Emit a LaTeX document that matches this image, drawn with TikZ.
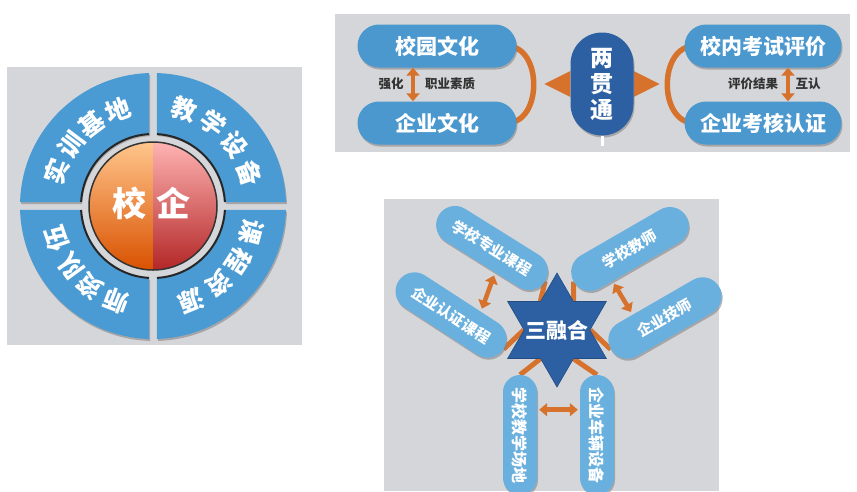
\documentclass[tikz,border=0pt]{standalone}
\usepackage{fontspec}
\setmainfont{Noto Sans CJK SC}
\usetikzlibrary{shapes.geometric,arrows.meta,calc,shadows}
\pgfdeclarelayer{back}
\pgfdeclarelayer{mid}
\pgfsetlayers{back,mid,main}
\definecolor{bggray}{RGB}{213,214,217}
\definecolor{ringblue}{RGB}{74,155,211}
\definecolor{pillblue}{RGB}{75,152,207}
\definecolor{lightblue}{RGB}{106,176,222}
\definecolor{darkblue}{RGB}{44,96,162}
\definecolor{linkorange}{RGB}{214,114,44}
\tikzset{
  panel/.style={fill=bggray},
  shadowed/.style={drop shadow={shadow xshift=1pt,shadow yshift=-2pt,opacity=0.55}},
  ringchar/.style={text=white, inner sep=0pt, font=\bfseries\fontsize{25}{25}\selectfont},
  bigchar/.style={text=white, inner sep=0pt, font=\bfseries\fontsize{34}{34}\selectfont},
  pill/.style={fill=pillblue, rounded corners=21.5pt, minimum width=159pt, minimum height=43pt,
    inner sep=0pt, text=white, font=\bfseries\fontsize{21}{21}\selectfont, shadowed},
  hub/.style={fill=darkblue, rounded corners=31.5pt, minimum width=63pt, minimum height=103pt,
    inner sep=0pt, text=white, align=center, font=\bfseries\fontsize{23}{26}\selectfont, shadowed},
  note/.style={text=black!80, inner sep=0pt, font=\bfseries\fontsize{12.5}{12.5}\selectfont},
  bow/.style={linkorange, line width=5.5pt},
  dbl/.style={linkorange, line width=4.5pt, {Triangle[width=13pt,length=8pt]}-{Triangle[width=13pt,length=8pt]}},
  link/.style={linkorange, line width=5pt},
  star6/.style={shape=star, star points=6, star point ratio=1.732, minimum size=114pt, inner sep=0pt,
    fill=darkblue, draw=darkblue!80!black, line width=0.6pt},
  starlabel/.style={text=white, inner sep=0pt, font=\bfseries\fontsize{21}{21}\selectfont},
  petal/.style={fill=lightblue, rounded corners=19pt, minimum width=125pt, minimum height=38pt,
    inner sep=0pt, text=white, font=\bfseries\fontsize{15}{15}\selectfont, shadowed},
  upright/.style={petal, rotate=-90, minimum width=120pt, minimum height=34pt, rounded corners=17pt,
    font=\bfseries\fontsize{16}{16}\selectfont}
}
\begin{document}
\begin{tikzpicture}[x=1pt,y=-1pt]
  \useasboundingbox (0,0) rectangle (857,491);
  \begin{pgfonlayer}{back}
    \fill[white] (0,0) rectangle (857,491);
    \fill[panel] (7,67) rectangle (302,345);
    \fill[panel] (335,14) rectangle (850,152);
    \fill[panel] (384,199) rectangle (719,491);
  \end{pgfonlayer}

  \begin{scope}[shift={(153,206)}, y=1pt]
    \foreach \q in {0,90,180,270}{
      \fill[ringblue, shadowed] (\q+91.72:133) arc[start angle=\q+91.72, end angle=\q+178.28, radius=133]
        -- (\q+176.82:72) arc[start angle=\q+176.82, end angle=\q+93.18, radius=72] -- cycle;
      \draw[black!85, line width=2pt] (\q+176.82:72) arc[start angle=\q+176.82, end angle=\q+93.18, radius=72];
    }
    \begin{scope}
      \clip (-66,-66) rectangle (0,66);
      \shade[top color=orange!45!white, bottom color=orange!75!red!85!black] (0,0) circle(64);
    \end{scope}
    \begin{scope}
      \clip (0,-66) rectangle (66,66);
      \shade[top color=red!30!white, bottom color=red!65!black!85] (0,0) circle(64);
    \end{scope}
    \draw[black!80, line width=1.5pt] (0,0) circle(64);
    \node[bigchar] (xiao) at (-24,3) {校};
    \node[bigchar] (qi) at (20,3) {企};
    \foreach \a/\c [count=\i] in {160/实,143/训,127/基,110/地,72/教,54/学,37/设,19/备,
        -15/课,-33/程,-50/资,-68/源,249/师,232/资,216/队,199/伍}
      \node[ringchar, rotate=\a-90] (r\i) at (\a:102) {\c};
  \end{scope}

  \node[pill] (w1) at (437,46) {校园文化};
  \node[pill] (w2) at (437,123) {企业文化};
  \node[pill, minimum width=157pt] (e1) at (763,46) {校内考试评价};
  \node[pill, minimum width=157pt] (e2) at (763,123) {企业考核认证};
  \begin{pgfonlayer}{mid}
    \draw[bow] ([xshift=-10pt]w1.east) to[out=0,in=0,looseness=1.2] ([xshift=-10pt]w2.east);
    \draw[bow] ([xshift=10pt]e1.west) to[out=180,in=180,looseness=1.2] ([xshift=10pt]e2.west);
  \end{pgfonlayer}
  \draw[dbl] ([xshift=-24pt]w1.south) -- ([xshift=-24pt]w2.north);
  \draw[dbl] ([xshift=25pt]e1.south) -- ([xshift=25pt]e2.north);
  \node[note] (l1) at (391,84) {强化};
  \node[note] (l2) at (450,84) {职业素质};
  \node[note] (l3) at (753,84) {评价结果};
  \node[note] (l4) at (808,84) {互认};
  \node[hub] (c) at (602,84) {两\\贯\\通};
  \begin{pgfonlayer}{mid}
    \fill[linkorange] ([yshift=13pt]c.west) -- ([xshift=-26pt]c.west) -- ([yshift=-13pt]c.west) -- cycle;
    \fill[linkorange] ([yshift=13pt]c.east) -- ([xshift=26pt]c.east) -- ([yshift=-13pt]c.east) -- cycle;
  \end{pgfonlayer}
  \fill[white] ([xshift=-1.5pt]c.south) rectangle ++(3,10);

  \node[star6] (s) at (557,330) {};
  \node[starlabel] (sl) at (s) {三融合};
  \node[petal, rotate=-32] (p1) at (492,248) {学校专业课程};
  \node[petal, rotate=-33] (p2) at (451,315) {企业认证课程};
  \node[petal, rotate=30, minimum width=130pt] (p3) at (630,249) {学校教师};
  \node[petal, rotate=30] (p4) at (665,318) {企业技师};
  \node[upright] (p5) at (520,435) {学校教学场地};
  \node[upright] (p6) at (597,435) {企业车辆设备};
  \begin{pgfonlayer}{mid}
    \draw[link] (s.120) -- (p1.east);
    \draw[link] (s.180) -- (p2.east);
    \draw[link] (s.60) -- (p3.west);
    \draw[link] (s.0) -- (p4.west);
    \draw[link] (s.240) -- (p5.west);
    \draw[link] (s.300) -- (p6.west);
  \end{pgfonlayer}
  \draw[dbl, shorten <=3pt, shorten >=3pt] ($(p1.south)!0.25!(p1.south east)$) -- ($(p2.north)!0.37!(p2.north east)$);
  \draw[dbl, shorten <=3pt, shorten >=3pt] ($(p3.south)!0.48!(p3.south west)$) -- ($(p4.north)!0.42!(p4.north west)$);
  \draw[dbl, shorten <=2pt, shorten >=2pt] ($(p5.north)!0.42!(p5.north west)$) -- ($(p6.south)!0.42!(p6.south west)$);
\end{tikzpicture}
\end{document}
